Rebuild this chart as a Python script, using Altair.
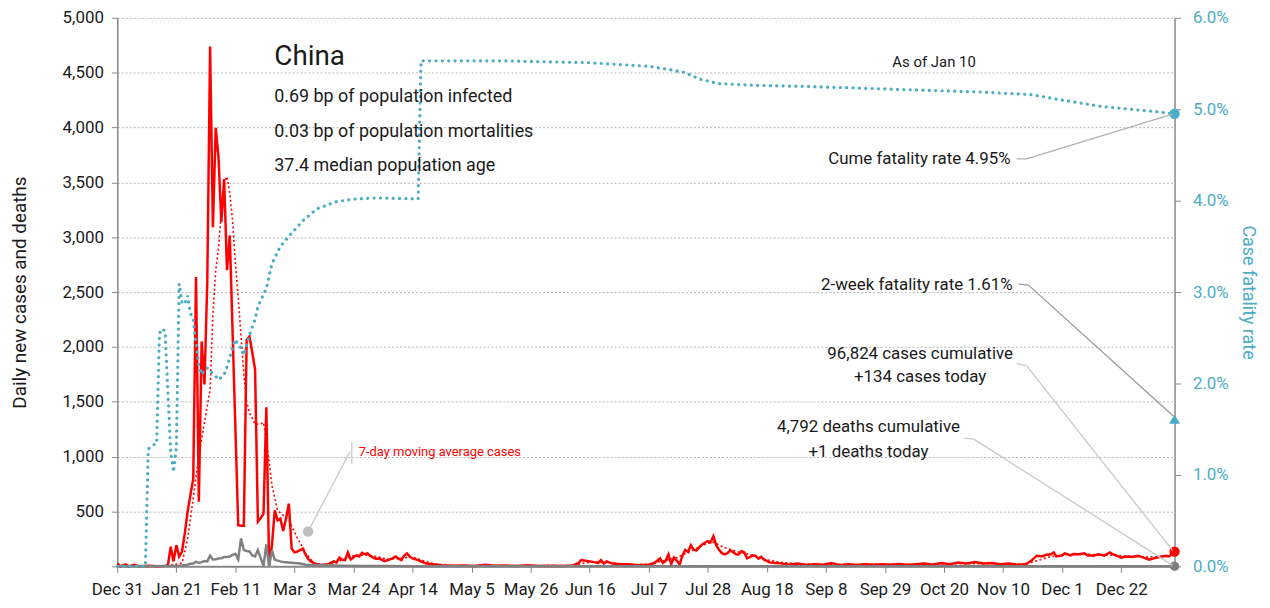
import altair as alt
import pandas as pd

# ---------------- data ----------------
cases = [
    ("2019-12-31", 27), ("2020-01-01", 0), ("2020-01-03", 17), ("2020-01-04", 0), ("2020-01-06", 15),
    ("2020-01-08", 0), ("2020-01-11", 5), ("2020-01-14", 0), ("2020-01-17", 4), ("2020-01-18", 12),
    ("2020-01-19", 178), ("2020-01-20", 45), ("2020-01-21", 193), ("2020-01-22", 90), ("2020-01-23", 135),
    ("2020-01-24", 300), ("2020-01-25", 498), ("2020-01-26", 650), ("2020-01-27", 797), ("2020-01-28", 2638),
    ("2020-01-29", 589), ("2020-01-30", 2050), ("2020-01-31", 1658), ("2020-02-01", 2600), ("2020-02-02", 4738),
    ("2020-02-03", 3092), ("2020-02-04", 3998), ("2020-02-05", 3726), ("2020-02-06", 3137), ("2020-02-07", 3530),
    ("2020-02-08", 2699), ("2020-02-09", 3016), ("2020-02-12", 374), ("2020-02-13", 370), ("2020-02-14", 370),
    ("2020-02-15", 2065), ("2020-02-16", 2095), ("2020-02-17", 1950), ("2020-02-18", 1793), ("2020-02-19", 407),
    ("2020-02-20", 440), ("2020-02-21", 480), ("2020-02-22", 1449), ("2020-02-23", 12), ("2020-02-24", 193),
    ("2020-02-25", 510), ("2020-02-26", 419), ("2020-02-27", 435), ("2020-02-28", 323), ("2020-02-29", 435),
    ("2020-03-01", 571), ("2020-03-02", 163), ("2020-03-03", 127), ("2020-03-04", 135), ("2020-03-05", 148),
    ("2020-03-06", 160), ("2020-03-07", 103), ("2020-03-08", 63), ("2020-03-09", 43), ("2020-03-10", 27),
    ("2020-03-11", 20), ("2020-03-12", 12), ("2020-03-13", 15), ("2020-03-15", 20), ("2020-03-17", 45),
    ("2020-03-18", 35), ("2020-03-19", 79), ("2020-03-20", 60), ("2020-03-21", 57), ("2020-03-22", 127),
    ("2020-03-23", 63), ("2020-03-24", 80), ("2020-03-25", 100), ("2020-03-26", 90), ("2020-03-27", 123),
    ("2020-03-28", 110), ("2020-03-29", 118), ("2020-03-30", 95), ("2020-03-31", 80), ("2020-04-01", 70),
    ("2020-04-02", 72), ("2020-04-03", 60), ("2020-04-04", 48), ("2020-04-05", 55), ("2020-04-06", 63),
    ("2020-04-07", 75), ("2020-04-08", 90), ("2020-04-09", 70), ("2020-04-10", 57), ("2020-04-11", 95),
    ("2020-04-12", 118), ("2020-04-13", 90), ("2020-04-14", 72), ("2020-04-15", 65), ("2020-04-16", 57),
    ("2020-04-17", 45), ("2020-04-18", 33), ("2020-04-19", 25), ("2020-04-21", 18), ("2020-04-24", 9),
    ("2020-04-28", 5), ("2020-05-02", 8), ("2020-05-06", 3), ("2020-05-10", 14), ("2020-05-13", 5),
    ("2020-05-17", 7), ("2020-05-21", 4), ("2020-05-25", 10), ("2020-05-29", 3), ("2020-06-02", 6),
    ("2020-06-06", 4), ("2020-06-10", 8), ("2020-06-12", 30), ("2020-06-13", 57), ("2020-06-16", 45),
    ("2020-06-18", 36), ("2020-06-19", 30), ("2020-06-20", 57), ("2020-06-21", 25), ("2020-06-22", 45),
    ("2020-06-24", 25), ("2020-06-27", 18), ("2020-06-30", 20), ("2020-07-03", 10), ("2020-07-07", 15),
    ("2020-07-09", 30), ("2020-07-11", 72), ("2020-07-12", 30), ("2020-07-13", 50), ("2020-07-14", 109),
    ("2020-07-15", 20), ("2020-07-16", 80), ("2020-07-17", 50), ("2020-07-18", 16), ("2020-07-19", 100),
    ("2020-07-20", 150), ("2020-07-21", 130), ("2020-07-22", 193), ("2020-07-23", 150), ("2020-07-24", 145),
    ("2020-07-25", 175), ("2020-07-26", 200), ("2020-07-27", 215), ("2020-07-28", 229), ("2020-07-29", 220),
    ("2020-07-30", 275), ("2020-07-31", 193), ("2020-08-01", 150), ("2020-08-02", 120), ("2020-08-03", 109),
    ("2020-08-04", 120), ("2020-08-05", 145), ("2020-08-06", 130), ("2020-08-07", 110), ("2020-08-08", 109),
    ("2020-08-09", 140), ("2020-08-10", 127), ("2020-08-11", 72), ("2020-08-12", 85), ("2020-08-13", 100),
    ("2020-08-14", 95), ("2020-08-15", 70), ("2020-08-16", 87), ("2020-08-17", 60), ("2020-08-18", 50),
    ("2020-08-19", 36), ("2020-08-21", 30), ("2020-08-23", 27), ("2020-08-26", 15), ("2020-08-29", 25),
    ("2020-09-01", 12), ("2020-09-04", 20), ("2020-09-07", 15), ("2020-09-10", 30), ("2020-09-13", 10),
    ("2020-09-16", 18), ("2020-09-19", 12), ("2020-09-22", 20), ("2020-09-25", 14), ("2020-09-28", 20),
    ("2020-10-01", 15), ("2020-10-04", 22), ("2020-10-07", 12), ("2020-10-10", 20), ("2020-10-13", 25),
    ("2020-10-16", 15), ("2020-10-19", 30), ("2020-10-22", 20), ("2020-10-25", 35), ("2020-10-28", 25),
    ("2020-10-31", 40), ("2020-11-03", 25), ("2020-11-06", 30), ("2020-11-09", 20), ("2020-11-12", 25),
    ("2020-11-15", 15), ("2020-11-18", 18), ("2020-11-20", 50), ("2020-11-22", 97), ("2020-11-24", 90),
    ("2020-11-25", 103), ("2020-11-27", 110), ("2020-11-28", 127), ("2020-11-29", 90), ("2020-12-01", 100),
    ("2020-12-02", 118), ("2020-12-04", 100), ("2020-12-05", 112), ("2020-12-07", 110), ("2020-12-09", 118),
    ("2020-12-10", 100), ("2020-12-12", 97), ("2020-12-14", 110), ("2020-12-16", 97), ("2020-12-18", 127),
    ("2020-12-19", 110), ("2020-12-21", 90), ("2020-12-22", 79), ("2020-12-24", 90), ("2020-12-26", 85),
    ("2020-12-28", 97), ("2020-12-30", 80), ("2021-01-01", 60), ("2021-01-03", 75), ("2021-01-05", 87),
    ("2021-01-07", 97), ("2021-01-08", 90), ("2021-01-09", 110), ("2021-01-10", 134),
]

cases_ma7 = [
    ("2019-12-31", 4), ("2020-01-10", 5), ("2020-01-18", 5), ("2020-01-21", 20), ("2020-01-23", 30),
    ("2020-01-25", 250), ("2020-01-27", 616), ("2020-01-29", 1008), ("2020-01-31", 1313), ("2020-02-02", 1612),
    ("2020-02-03", 2300), ("2020-02-04", 2700), ("2020-02-05", 2900), ("2020-02-06", 3250), ("2020-02-07", 3500),
    ("2020-02-08", 3553), ("2020-02-09", 3400), ("2020-02-10", 3150), ("2020-02-11", 2763), ("2020-02-12", 2450),
    ("2020-02-13", 2100), ("2020-02-14", 1750), ("2020-02-15", 1500), ("2020-02-16", 1400), ("2020-02-18", 1295),
    ("2020-02-20", 1300), ("2020-02-21", 1311), ("2020-02-22", 1159), ("2020-02-24", 736), ("2020-02-26", 510),
    ("2020-03-01", 420), ("2020-03-04", 260), ("2020-03-07", 120), ("2020-03-10", 30), ("2020-03-14", 12),
    ("2020-03-17", 25), ("2020-03-20", 60), ("2020-03-24", 95), ("2020-03-28", 105), ("2020-04-01", 90),
    ("2020-04-05", 65), ("2020-04-10", 75), ("2020-04-14", 85), ("2020-04-18", 50), ("2020-04-22", 20),
    ("2020-04-28", 8), ("2020-05-15", 7), ("2020-06-10", 6), ("2020-06-14", 30), ("2020-06-18", 40),
    ("2020-06-24", 30), ("2020-07-01", 15), ("2020-07-07", 20), ("2020-07-12", 50), ("2020-07-17", 80),
    ("2020-07-22", 140), ("2020-07-27", 200), ("2020-07-30", 220), ("2020-08-03", 170), ("2020-08-08", 130),
    ("2020-08-13", 100), ("2020-08-18", 60), ("2020-08-23", 35), ("2020-09-01", 20), ("2020-10-01", 17),
    ("2020-11-01", 25), ("2020-11-18", 20), ("2020-11-22", 50), ("2020-11-27", 90), ("2020-12-02", 105),
    ("2020-12-10", 110), ("2020-12-20", 100), ("2020-12-30", 85), ("2021-01-07", 90),
]

deaths = [
    ("2019-12-31", 0), ("2020-01-10", 1), ("2020-01-17", 2), ("2020-01-21", 3), ("2020-01-23", 8),
    ("2020-01-25", 15), ("2020-01-26", 24), ("2020-01-27", 26), ("2020-01-28", 43), ("2020-01-29", 30),
    ("2020-01-30", 38), ("2020-01-31", 48), ("2020-02-01", 45), ("2020-02-02", 97), ("2020-02-03", 63),
    ("2020-02-04", 65), ("2020-02-05", 72), ("2020-02-06", 73), ("2020-02-07", 86), ("2020-02-08", 85),
    ("2020-02-09", 90), ("2020-02-10", 105), ("2020-02-11", 115), ("2020-02-12", 63), ("2020-02-13", 254),
    ("2020-02-14", 148), ("2020-02-15", 140), ("2020-02-16", 136), ("2020-02-17", 100), ("2020-02-18", 90),
    ("2020-02-19", 148), ("2020-02-20", 75), ("2020-02-21", 5), ("2020-02-22", 200), ("2020-02-23", 0),
    ("2020-02-24", 145), ("2020-02-25", 60), ("2020-02-26", 52), ("2020-02-27", 45), ("2020-02-28", 40),
    ("2020-03-01", 35), ("2020-03-03", 30), ("2020-03-05", 25), ("2020-03-07", 15), ("2020-03-10", 12),
    ("2020-03-14", 10), ("2020-03-20", 6), ("2020-03-28", 4), ("2020-04-05", 3), ("2020-04-15", 1),
    ("2020-04-20", 0), ("2020-12-31", 0), ("2021-01-10", 1),
]

# cumulative case fatality rate, percent
fatality_rate = [
    ("2019-12-31", 0.0), ("2020-01-10", 0.0), ("2020-01-11", 1.28), ("2020-01-12", 1.31), ("2020-01-13", 1.33),
    ("2020-01-14", 1.34), ("2020-01-15", 2.55), ("2020-01-16", 2.60), ("2020-01-17", 2.57), ("2020-01-18", 1.90),
    ("2020-01-19", 1.25), ("2020-01-20", 1.03), ("2020-01-21", 1.30), ("2020-01-22", 3.09), ("2020-01-23", 2.88),
    ("2020-01-24", 2.87), ("2020-01-25", 2.96), ("2020-01-26", 2.77), ("2020-01-27", 2.70), ("2020-01-28", 2.44),
    ("2020-01-29", 2.19), ("2020-01-30", 2.10), ("2020-01-31", 2.15), ("2020-02-01", 2.17), ("2020-02-02", 2.14),
    ("2020-02-03", 2.10), ("2020-02-04", 2.08), ("2020-02-05", 2.04), ("2020-02-06", 2.07), ("2020-02-07", 2.10),
    ("2020-02-08", 2.18), ("2020-02-09", 2.28), ("2020-02-10", 2.40), ("2020-02-11", 2.48), ("2020-02-12", 2.42),
    ("2020-02-13", 2.39), ("2020-02-14", 2.31), ("2020-02-15", 2.42), ("2020-02-16", 2.53), ("2020-02-17", 2.62),
    ("2020-02-18", 2.70), ("2020-02-19", 2.84), ("2020-02-20", 2.91), ("2020-02-22", 3.04), ("2020-02-24", 3.31),
    ("2020-02-27", 3.50), ("2020-03-01", 3.61), ("2020-03-06", 3.78), ("2020-03-11", 3.91), ("2020-03-18", 3.99),
    ("2020-03-25", 4.02), ("2020-04-01", 4.03), ("2020-04-16", 4.02), ("2020-04-17", 5.53), ("2020-05-15", 5.53),
    ("2020-06-15", 5.51), ("2020-07-07", 5.47), ("2020-07-15", 5.43), ("2020-07-20", 5.40), ("2020-07-25", 5.33),
    ("2020-08-01", 5.28), ("2020-08-15", 5.26), ("2020-09-01", 5.25), ("2020-10-01", 5.22), ("2020-11-01", 5.19),
    ("2020-11-20", 5.16), ("2020-12-01", 5.10), ("2020-12-15", 5.03), ("2021-01-01", 4.98), ("2021-01-10", 4.95),
]

latest_date = "2021-01-10"
latest_cases = 134
latest_deaths = 1
cume_fatality = 4.95
two_week_fatality = 1.61

x_tick_dates = [(2019, 12, 31), (2020, 1, 21), (2020, 2, 11), (2020, 3, 3), (2020, 3, 24), (2020, 4, 14),
                (2020, 5, 5), (2020, 5, 26), (2020, 6, 16), (2020, 7, 7), (2020, 7, 28), (2020, 8, 18),
                (2020, 9, 8), (2020, 9, 29), (2020, 10, 20), (2020, 11, 10), (2020, 12, 1), (2020, 12, 22)]
left_ticks = list(range(0, 5001, 500))
right_ticks = [0, 1, 2, 3, 4, 5, 6]

# ---------------- styling ----------------
FONT = "Roboto"
RED = "#ff0000"
GREY = "#808080"
TEAL = "#4bacc6"
TXT = "#1a1a1a"
W, H = 1064, 552
TICK_FS = 17


def dt(y, m, d):
    return alt.DateTime(year=y, month=m, date=d, utc=True)


cases_df = pd.DataFrame(cases, columns=["date", "value"])
ma_df = pd.DataFrame(cases_ma7, columns=["date", "value"])
deaths_df = pd.DataFrame(deaths, columns=["date", "value"])
cfr_df = pd.DataFrame(fatality_rate, columns=["date", "rate"])
last_cases_df = pd.DataFrame({"date": [latest_date], "value": [latest_cases]})
last_deaths_df = pd.DataFrame({"date": [latest_date], "value": [latest_deaths]})
cume_df = pd.DataFrame({"date": [latest_date], "rate": [cume_fatality]})
two_week_df = pd.DataFrame({"date": [latest_date], "rate": [two_week_fatality]})

x_enc = alt.X(
    "date:T",
    scale=alt.Scale(type="utc", domain=[dt(2019, 12, 31), dt(2021, 1, 10)]),
    axis=alt.Axis(
        title=None, values=[dt(*d) for d in x_tick_dates], format="%b %-d",
        grid=False, domainColor="#888888", domainWidth=2, tickColor="#888888",
        tickSize=6, labelPadding=9, labelFontSize=TICK_FS, labelColor=TXT, labelFlush=False,
        labelOverlap=False,
    ),
)
x_plain = alt.X("date:T")

y_left = alt.Y(
    "value:Q",
    scale=alt.Scale(domain=[0, 5000], nice=False),
    axis=alt.Axis(
        title="Daily new cases and deaths", values=left_ticks,
        labelExpr="datum.value == 0 ? '' : format(datum.value, ',')",
        grid=True, gridDash=[2, 2], gridColor="#b5b5b5", gridWidth=1,
        domainColor="#888888", domainWidth=1.5, tickColor="#888888", tickSize=6,
        labelPadding=8, labelFontSize=TICK_FS, labelColor=TXT,
        titleFontSize=19, titleFontWeight="normal", titleColor=TXT, titlePadding=33,
    ),
)
y_left_plain = alt.Y("value:Q")

y_right = alt.Y(
    "rate:Q",
    scale=alt.Scale(domain=[0, 6], nice=False),
    axis=alt.Axis(
        orient="right", title="Case fatality rate", values=right_ticks,
        labelExpr="format(datum.value, '.1f') + '%'",
        grid=False, domainColor="#888888", domainWidth=1.5, tickColor="#888888", tickSize=6,
        labelPadding=12, labelFontSize=TICK_FS, labelColor=TEAL,
        titleFontSize=18, titleFontWeight="normal", titleColor=TEAL, titlePadding=10,
    ),
)
y_right_plain = alt.Y("rate:Q")

# ---------------- left-axis layers ----------------
ma_line = alt.Chart(ma_df).mark_line(color=RED, strokeWidth=1.6, strokeDash=[2, 2.5]).encode(
    x=x_enc, y=y_left)
cases_line = alt.Chart(cases_df).mark_line(color=RED, strokeWidth=2.5).encode(x=x_plain, y=y_left_plain)
deaths_line = alt.Chart(deaths_df).mark_line(color=GREY, strokeWidth=2.5).encode(x=x_plain, y=y_left_plain)
last_case_pt = alt.Chart(last_cases_df).mark_point(filled=True, color=RED, size=110, opacity=1).encode(
    x=x_plain, y=y_left_plain)
last_death_pt = alt.Chart(last_deaths_df).mark_point(filled=True, color=GREY, size=90, opacity=1).encode(
    x=x_plain, y=y_left_plain)

left_group = alt.layer(ma_line, cases_line, deaths_line, last_case_pt, last_death_pt)

# ---------------- right-axis layers ----------------
cfr_line = alt.Chart(cfr_df).mark_line(color=TEAL, strokeWidth=3.2, strokeDash=[0.1, 6.3],
                                       strokeCap="round").encode(x=x_plain, y=y_right)
cume_pt = alt.Chart(cume_df).mark_point(filled=True, color=TEAL, size=110, opacity=1).encode(
    x=x_plain, y=y_right_plain)
two_week_pt = alt.Chart(two_week_df).mark_point(filled=True, color=TEAL, size=120, shape="triangle-up",
                                                 opacity=1).encode(x=x_plain, y=y_right_plain)

right_group = alt.layer(cfr_line, cume_pt, two_week_pt)

# ---------------- annotations (pixel positions inside the plot) ----------------
one = pd.DataFrame({"k": [0]})


def label(text, px, py, size=17, align="left", color=TXT):
    return alt.Chart(one).mark_text(text=text, align=align, baseline="middle", fontSize=size,
                                    color=color, font=FONT).encode(x=alt.value(px), y=alt.value(py))


def seg(x1, y1, x2, y2, color="#b0b0b0", w=1.3):
    return alt.Chart(one).mark_rule(color=color, strokeWidth=w).encode(
        x=alt.value(x1), y=alt.value(y1), x2=alt.value(x2), y2=alt.value(y2))


notes = [
    label("China", 158, 39, size=28),
    label("0.69 bp of population infected", 158, 80, size=18),
    label("0.03 bp of population mortalities", 158, 115, size=18),
    label("37.4 median population age", 158, 149, size=18),
    label("As of Jan 10", 822, 44, size=15, align="center"),
    label("Cume fatality rate 4.95%", 899, 142, align="right"),
    label("2-week fatality rate 1.61%", 901, 269, align="right"),
    label("96,824 cases cumulative", 808, 338, align="center"),
    label("+134 cases today", 808, 362, align="center"),
    label("4,792 deaths cumulative", 756, 412, align="center"),
    label("+1 deaths today", 756, 437, align="center"),
    label("7-day moving average cases", 243, 437, size=13, color=RED),
    seg(905, 142, 915, 142), seg(915, 142, 1062, 97),
    seg(907, 268, 917, 269, color="#999999"), seg(917, 269, 1063, 401, color="#999999"),
    seg(905, 348, 915, 350, color="#c8c8c8"), seg(915, 350, 1062, 536, color="#c8c8c8"),
    seg(852, 423, 862, 424, color="#c8c8c8"), seg(862, 424, 1062, 551, color="#c8c8c8"),
    seg(192, 517, 234, 437, color="#c8c8c8"), seg(236, 427, 236, 449, color="#c8c8c8"),
    alt.Chart(one).mark_point(filled=True, color="#c0c0c0", size=110, opacity=1).encode(
        x=alt.value(192), y=alt.value(517)),
]

chart = (
    alt.layer(left_group, right_group, *notes)
    .resolve_scale(y="independent")
    .properties(
        width=W, height=H,
        autosize=alt.AutoSizeParams(type="none"),
        padding={"left": 110, "top": 8, "right": 88, "bottom": 32},
    )
    .configure(font=FONT)
    .configure_view(stroke=None)
)

chart.save("out.html", embed_options={"renderer": "svg", "actions": False})
